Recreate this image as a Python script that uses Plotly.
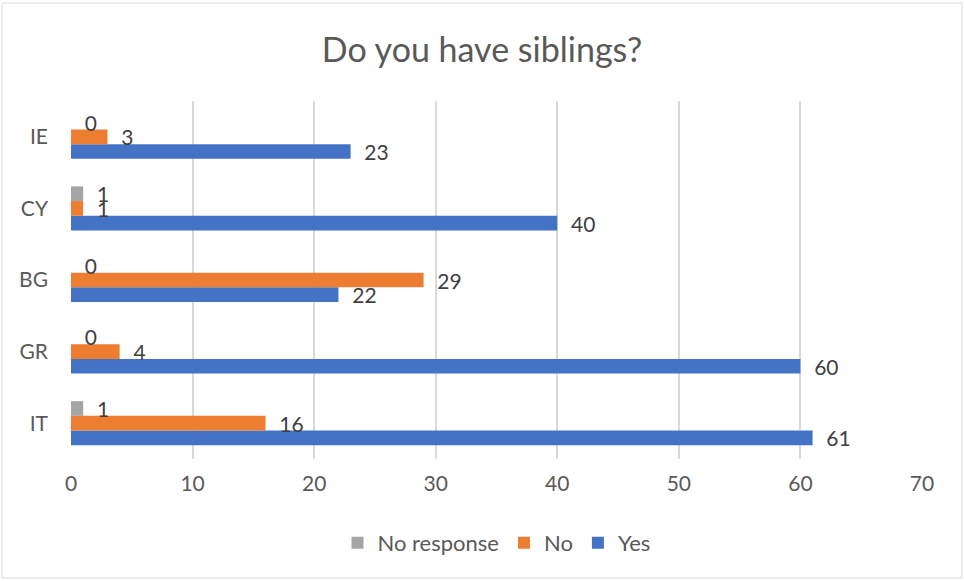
import plotly.graph_objects as go

# Survey answers per country
countries = ["IT", "GR", "BG", "CY", "IE"]
yes = [61, 60, 22, 40, 23]
no = [16, 4, 29, 1, 3]
no_response = [1, 0, 0, 1, 0]
x_ticks = [0, 10, 20, 30, 40, 50, 60, 70]

TEXT = "#595959"
FONT = "Lato"

W, H = 964, 581
L, R, T, B = 71, 42, 101, 122

series = [
    ("Yes", yes, "#4472C4"),
    ("No", no, "#ED7D31"),
    ("No response", no_response, "#A5A5A5"),
]

fig = go.Figure()
for name, vals, color in series:
    fig.add_trace(go.Bar(
        name=name,
        y=countries,
        x=vals,
        orientation="h",
        marker=dict(color=color, line=dict(width=0)),
        text=vals,
        texttemplate="\u00a0\u00a0%{x}",
        textposition="outside",
        textangle=0,
        constraintext="none",
        cliponaxis=False,
        textfont=dict(family=FONT, size=21, color="#404040"),
    ))

# thin frame around the whole chart
px_x = lambda p: (p - L) / (W - L - R)
px_y = lambda p: (H - B - p) / (H - T - B)

fig.update_layout(
    width=W, height=H,
    margin=dict(l=L, r=R, t=T, b=B),
    paper_bgcolor="white",
    plot_bgcolor="white",
    barmode="group",
    bargap=0.385,
    bargroupgap=0,
    title=dict(
        text="Do you have siblings?",
        x=0.5, xanchor="center",
        y=1 - 50 / H, yanchor="middle",
        font=dict(family=FONT, size=34, color=TEXT),
    ),
    xaxis=dict(
        range=[0, 70],
        tickvals=x_ticks,
        showgrid=True, gridcolor="#D9D9D9", gridwidth=1.5,
        zeroline=False, showline=False,
        ticks="", ticklabelstandoff=10,
        tickfont=dict(family=FONT, size=21, color=TEXT),
    ),
    yaxis=dict(
        showgrid=False, zeroline=False, showline=False,
        ticks="", ticklabelstandoff=22,
        tickfont=dict(family=FONT, size=21, color=TEXT),
    ),
    legend=dict(
        orientation="h",
        traceorder="reversed",
        x=0.5, xanchor="center",
        y=px_y(543), yanchor="middle",
        font=dict(family=FONT, size=22, color=TEXT),
        itemwidth=30,
    ),
    shapes=[dict(
        type="rect", xref="paper", yref="paper",
        x0=px_x(2), x1=px_x(962), y0=px_y(578), y1=px_y(3),
        line=dict(color="#D9D9D9", width=1), layer="below",
    )],
    showlegend=True,
)

fig.write_html("out.html")
